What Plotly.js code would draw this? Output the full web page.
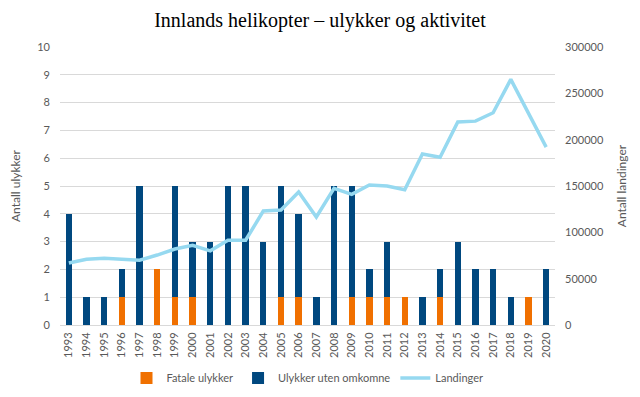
<!DOCTYPE html>
<html><head><meta charset="utf-8">
<script src="https://cdn.plot.ly/plotly-3.0.1.min.js"></script>
<style>html,body{margin:0;padding:0;background:#fff}#c{width:640px;height:397px}</style>
</head><body><div id="c"></div>
<script>
const years = ["1993","1994","1995","1996","1997","1998","1999","2000","2001","2002","2003","2004","2005","2006","2007","2008","2009","2010","2011","2012","2013","2014","2015","2016","2017","2018","2019","2020"];
const fatal =    [0,0,0,1,0,2,1,1,0,0,0,0,1,1,0,0,1,1,1,1,0,1,0,0,0,0,1,0];
const nonFatal = [4,1,1,1,5,0,4,2,3,5,5,3,4,3,1,5,4,1,2,0,1,1,3,2,2,1,0,2];
const landings = [66900,71000,72000,71000,70000,75500,82000,86000,80000,91500,91500,123000,124000,143500,116500,147500,141000,151000,150000,146000,184500,181000,219000,220000,229000,265000,228000,192000];

const fontFam = "Lato, 'Open Sans', sans-serif";
const data = [
  {type:'bar', x:years, y:fatal, name:'Fatale ulykker', marker:{color:'#F07000'}},
  {type:'bar', x:years, y:nonFatal, name:'Ulykker uten omkomne', marker:{color:'#00487F'}},
  {type:'scatter', mode:'lines', x:years, y:landings, name:'Landinger', yaxis:'y2', line:{color:'#96D9F0', width:3.5}}
];
const layout = {
  width:640, height:397,
  margin:{l:60, r:85, t:47, b:72},
  paper_bgcolor:'#fff', plot_bgcolor:'#fff',
  barmode:'stack', bargap:0.64,
  font:{family:fontFam, size:11, color:'#595959'},
  title:{text:'Innlands helikopter – ulykker og aktivitet', font:{family:"'Liberation Serif', 'DejaVu Serif', serif", size:20, color:'#000'}, x:0.5, xanchor:'center', y:0.95, yanchor:'middle'},
  xaxis:{type:'category', automargin:false, tickangle:-90, showgrid:false, showline:true, linecolor:'#D9D9D9', ticks:'', ticklabelstandoff:2, tickfont:{size:11, color:'#595959'}},
  yaxis:{range:[0,10], dtick:1, automargin:false, showgrid:true, gridcolor:'#D9D9D9', zeroline:false, ticks:'', ticklabelstandoff:9, title:{text:'Antall ulykker', font:{size:12, color:'#595959'}, standoff:14}},
  yaxis2:{overlaying:'y', side:'right', automargin:false, range:[0,300000], dtick:50000, tickformat:'d', showgrid:false, zeroline:false, ticks:'', ticklabelstandoff:9, title:{text:'Antall landinger', font:{size:12, color:'#595959'}, standoff:14}},
  legend:{orientation:'h', x:0.5, xanchor:'center', yref:'container', y:0.048, yanchor:'middle', font:{size:11, color:'#595959'}, traceorder:'normal'},
  showlegend:true
};
Plotly.newPlot('c', data, layout, {displayModeBar:false, staticPlot:true});
</script></body></html>
